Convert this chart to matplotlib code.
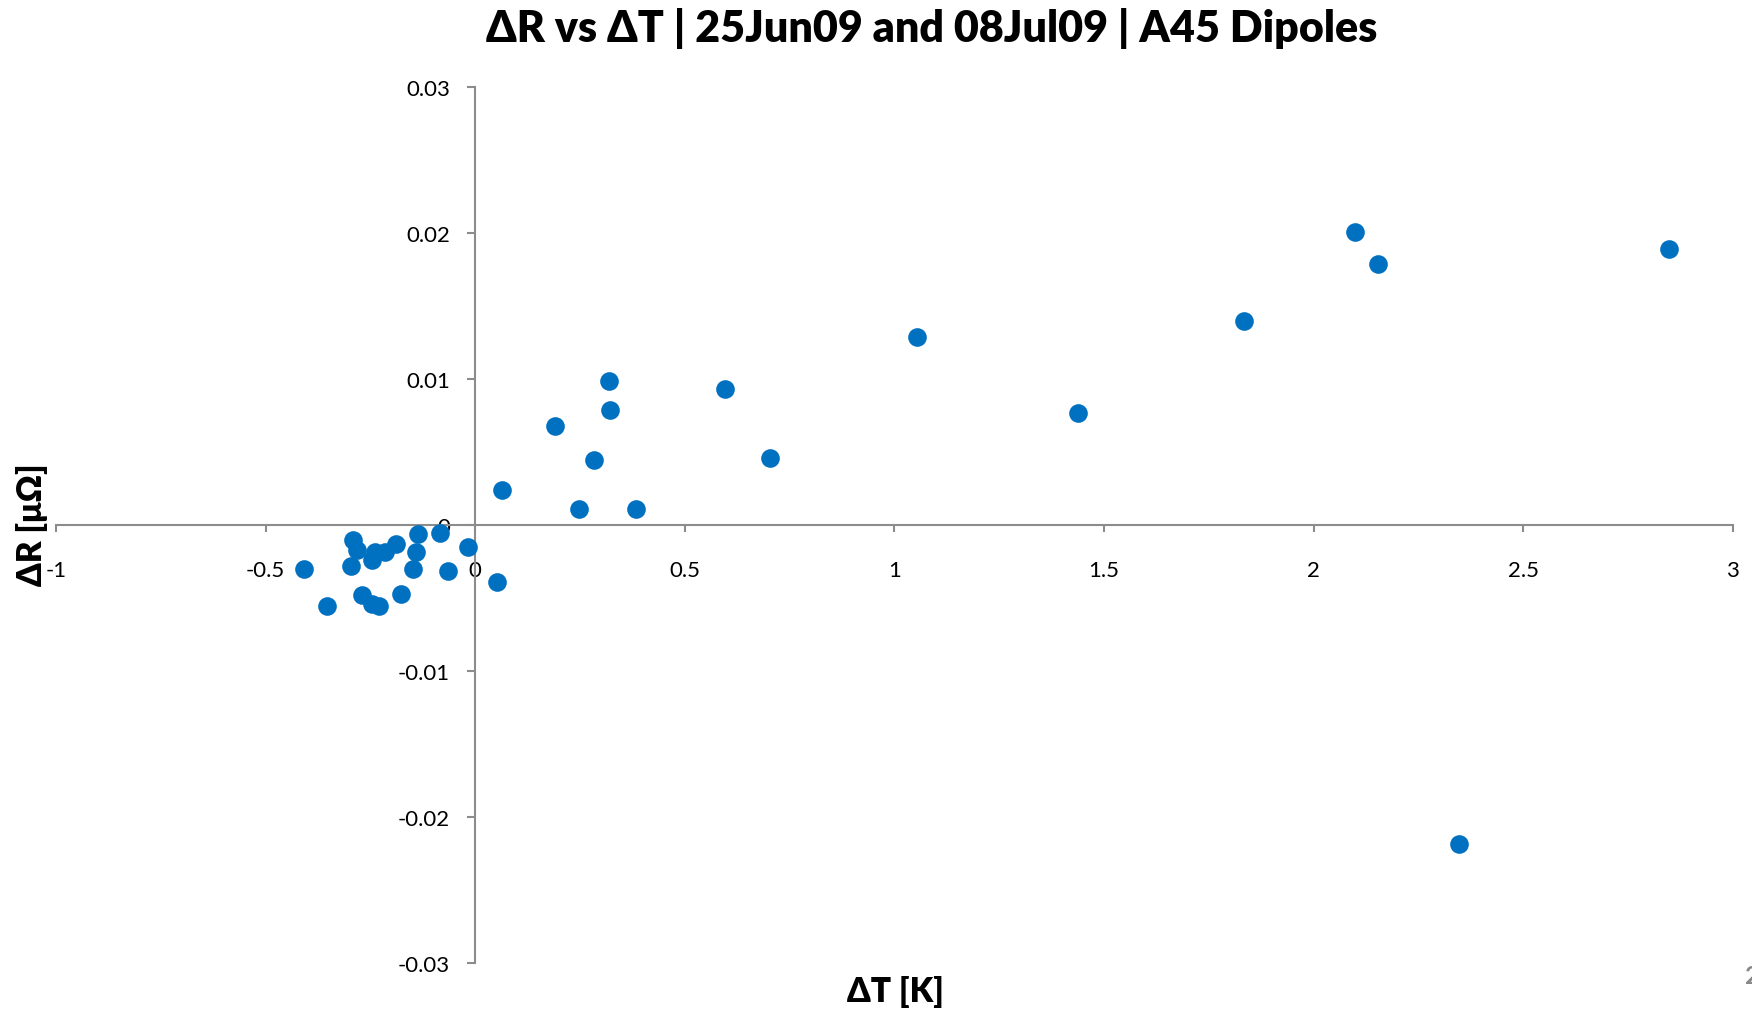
import matplotlib.pyplot as plt
from matplotlib.ticker import FixedLocator, FixedFormatter

plt.rcParams['font.family'] = ['Lato', 'DejaVu Sans']

# delta T [K] and delta R [uOhm]
dT = [2.099, 2.153, 2.848, 1.833, 1.055, 1.438, 0.596, 0.703, 0.319, 0.322,
      0.191, 0.284, 0.247, 0.383, 0.063, 2.347, 0.052,
      -0.409, -0.354, -0.292, -0.281, -0.297, -0.239, -0.247, -0.215, -0.189,
      -0.271, -0.247, -0.229, -0.176, -0.136, -0.141, -0.149, -0.084, -0.064,
      -0.017]
dR = [0.0201, 0.0179, 0.0189, 0.0140, 0.0129, 0.0077, 0.0093, 0.0046, 0.0099, 0.0079,
      0.0068, 0.0045, 0.0011, 0.0011, 0.0024, -0.0218, -0.0039,
      -0.0030, -0.0055, -0.0010, -0.0017, -0.0028, -0.0018, -0.0024, -0.0018, -0.0013,
      -0.0048, -0.0054, -0.0055, -0.0047, -0.0006, -0.0018, -0.0030, -0.0005, -0.0031,
      -0.0015]

x_ticks = [-1, -0.5, 0, 0.5, 1, 1.5, 2, 2.5, 3]
x_labels = ['-1', '-0.5', '0', '0.5', '1', '1.5', '2', '2.5', '3']
y_ticks = [-0.03, -0.02, -0.01, 0, 0.01, 0.02, 0.03]
y_labels = ['-0.03', '-0.02', '-0.01', '0', '0.01', '0.02', '0.03']

fig = plt.figure(figsize=(17.52, 10.12), dpi=100)
ax = fig.add_axes([0.032, 0.047, 0.957, 0.866])

ax.scatter(dT, dR, s=180, color='#0070C0', zorder=3, linewidths=0)

ax.set_xlim(-1, 3)
ax.set_ylim(-0.03, 0.03)
ax.spines['left'].set_position(('data', 0))
ax.spines['bottom'].set_position(('data', 0))
ax.spines['top'].set_visible(False)
ax.spines['right'].set_visible(False)
for s in ('left', 'bottom'):
    ax.spines[s].set_color('#8c8c8c')
    ax.spines[s].set_linewidth(1.5)

ax.xaxis.set_major_locator(FixedLocator(x_ticks))
ax.xaxis.set_major_formatter(FixedFormatter(x_labels))
ax.yaxis.set_major_locator(FixedLocator(y_ticks))
ax.yaxis.set_major_formatter(FixedFormatter(y_labels))
ax.tick_params(axis='x', length=5, width=1.5, color='#8c8c8c', pad=20, labelsize=16)
ax.tick_params(axis='y', length=6, width=1.5, color='#8c8c8c', pad=12, labelsize=16)

fig.text(0.532, 0.972, 'ΔR vs ΔT | 25Jun09 and 08Jul09 | A45 Dipoles',
         ha='center', va='center', fontsize=31, fontweight='heavy')
fig.text(0.511, 0.02, 'ΔT [K]', ha='center', va='center', fontsize=24, fontweight='heavy')
fig.text(0.018, 0.482, 'ΔR [μΩ]', ha='center', va='center', rotation=90,
         fontsize=24, fontweight='heavy')
fig.text(0.996, 0.035, '2', ha='left', va='center', fontsize=18,
         fontweight='bold', color='#888888')

plt.savefig('out.png', dpi=100)
